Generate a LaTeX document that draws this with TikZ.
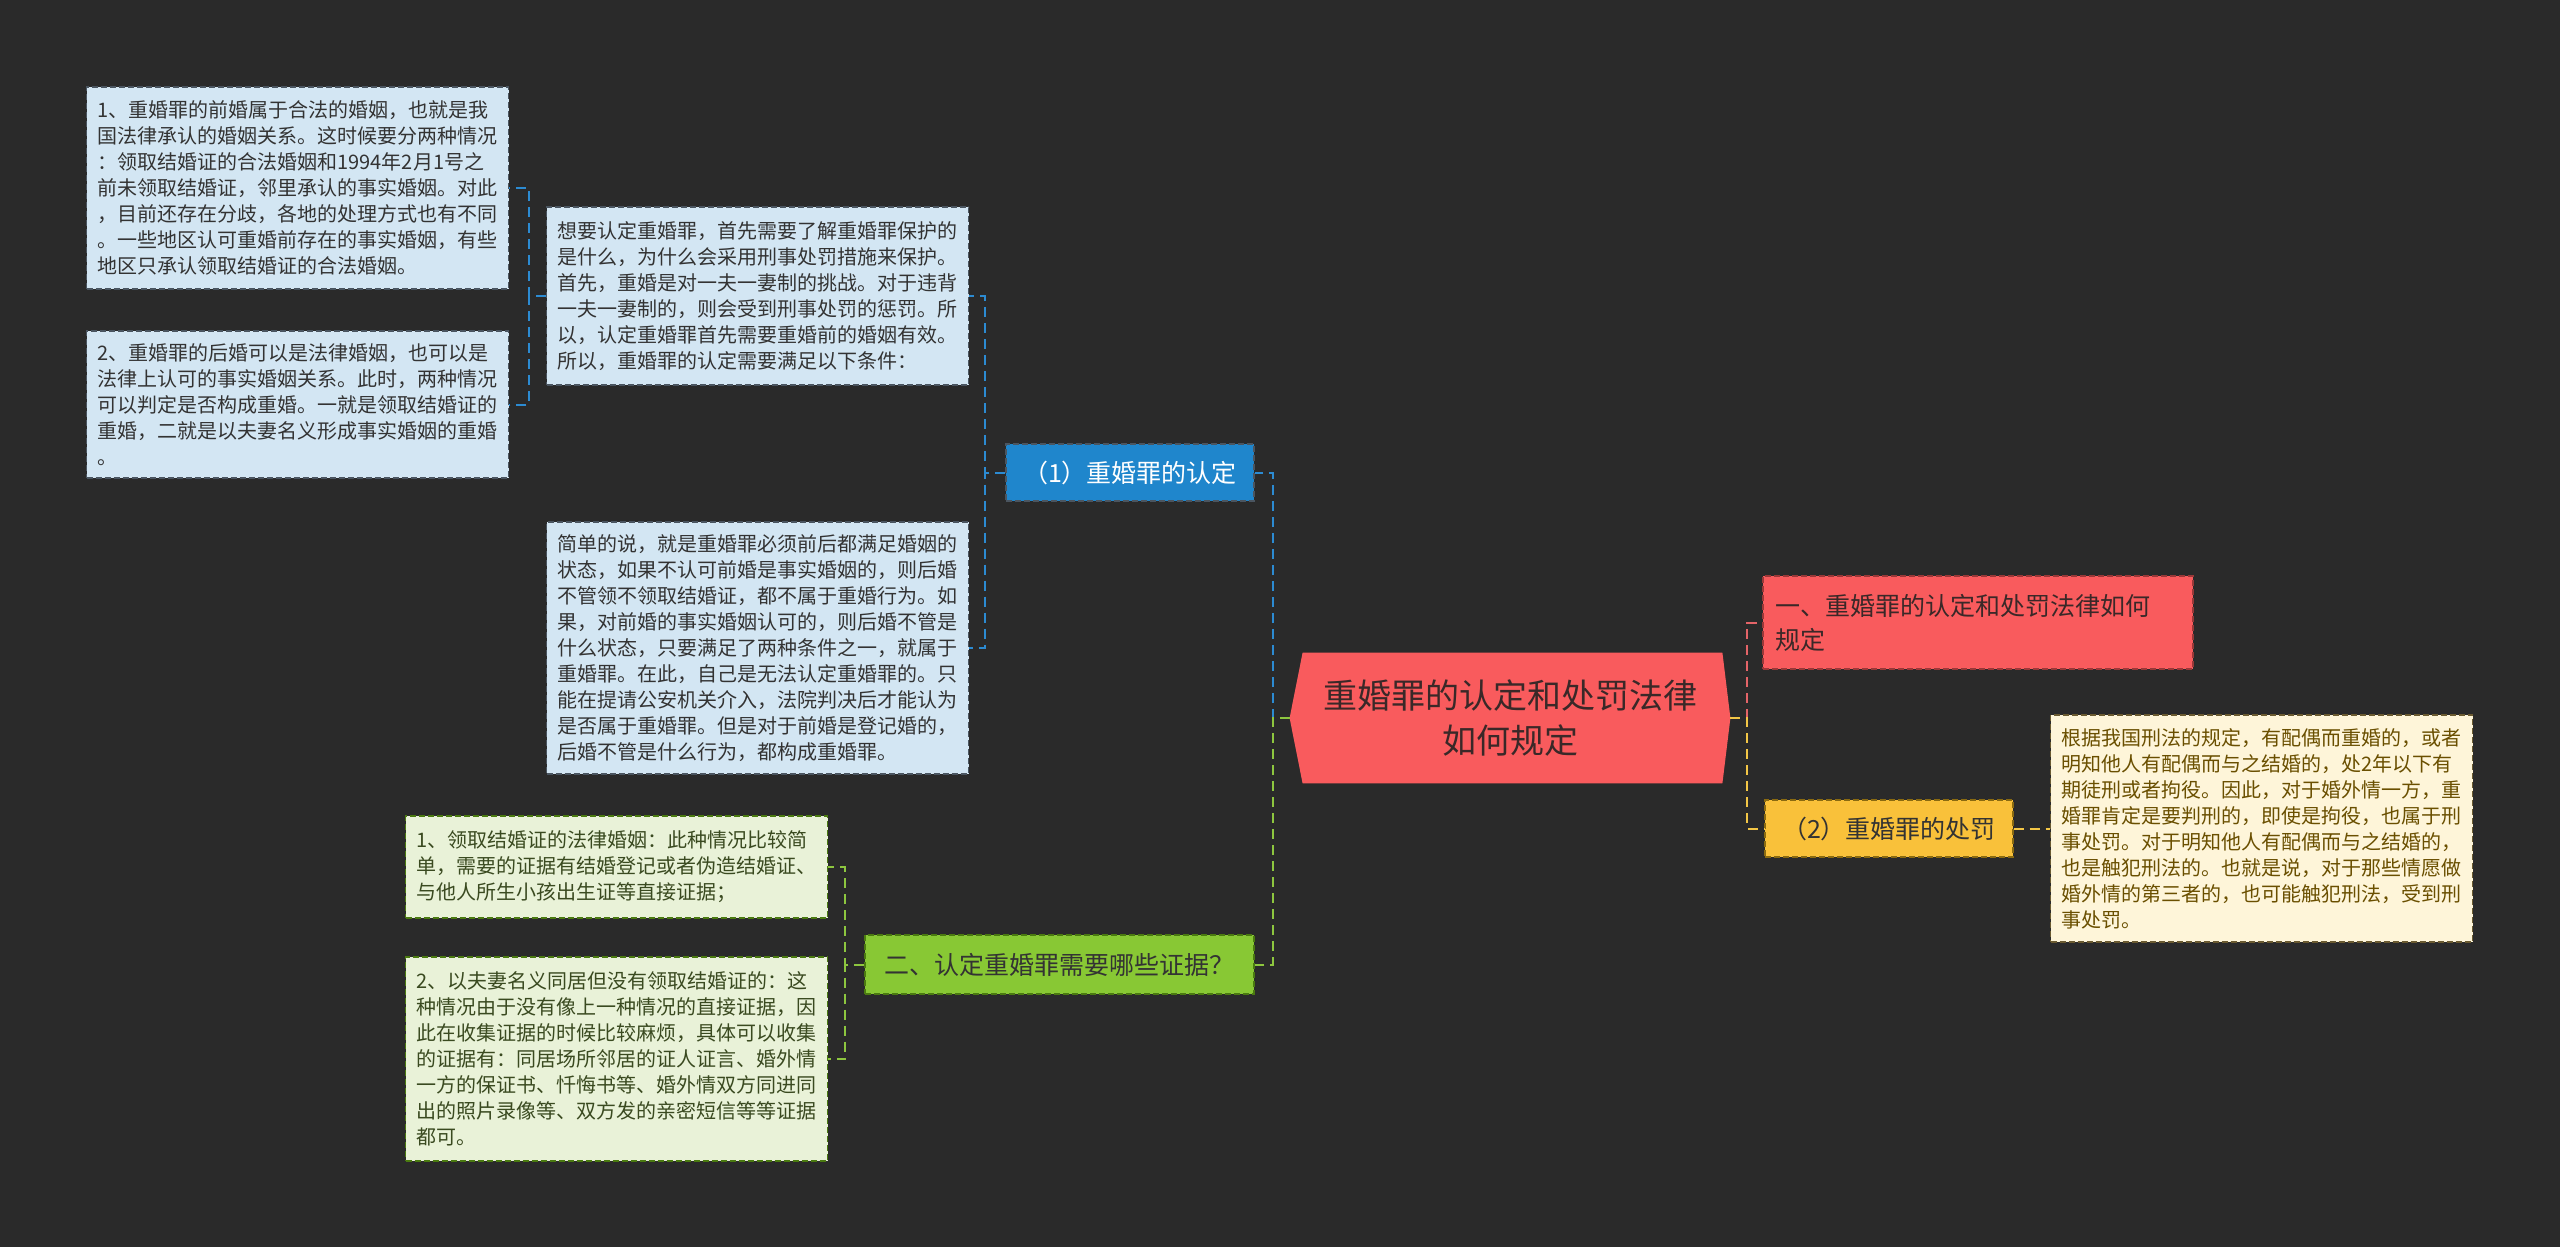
\documentclass[tikz,border=0pt]{standalone}
\usepackage{fontspec}
\newfontfamily\cjk{Noto Sans CJK SC}
\usetikzlibrary{calc, backgrounds}
\definecolor{cBack}{HTML}{2A2A2A}
\definecolor{cBlue}{HTML}{1F86CC}
\definecolor{cBlueLine}{HTML}{2C8BD2}
\definecolor{cBlueLt}{HTML}{D3E6F3}
\definecolor{cBlueEdge}{HTML}{4A5560}
\definecolor{cRed}{HTML}{F95B5D}
\definecolor{cRedLine}{HTML}{E46468}
\definecolor{cRedEdge}{HTML}{9A3838}
\definecolor{cYellow}{HTML}{F9C13A}
\definecolor{cYellowLine}{HTML}{F3C646}
\definecolor{cYellowEdge}{HTML}{8A6A10}
\definecolor{cCream}{HTML}{FEF5D9}
\definecolor{cCreamEdge}{HTML}{6A5A30}
\definecolor{cCreamInk}{HTML}{6A4F00}
\definecolor{cGreen}{HTML}{88C834}
\definecolor{cGreenLine}{HTML}{8DC63F}
\definecolor{cGreenEdge}{HTML}{4A7A10}
\definecolor{cGreenLt}{HTML}{E9F2D8}
\definecolor{cGreenInk}{HTML}{3A4A20}
\definecolor{cInk}{HTML}{333333}
\definecolor{cRootInk}{HTML}{3A2828}
\tikzset{
  leaf/.style={
    rectangle, draw=#1, dash pattern=on 3pt off 1.5pt, line width=0.6pt,
    text width=200pt, inner xsep=5.5pt, inner ysep=4pt, align=left,
    font=\cjk\fontsize{10pt}{13pt}\selectfont
  },
  bleaf/.style={leaf=cBlueEdge, fill=cBlueLt, text=cInk},
  gleaf/.style={leaf=cGreenEdge, fill=cGreenLt, text=cGreenInk},
  yleaf/.style={leaf=cCreamEdge, fill=cCream, text=cCreamInk},
  topic/.style={
    rectangle, draw=#1, dash pattern=on 3pt off 1.5pt, line width=0.6pt,
    minimum height=28.5pt, inner xsep=6pt, align=center,
    font=\cjk\fontsize{12.5pt}{17pt}\selectfont
  },
  btopic/.style={topic=cBlueEdge, fill=cBlue, text=white},
  rtopic/.style={topic=cRedEdge, fill=cRed, text=cRootInk},
  ytopic/.style={topic=cYellowEdge, fill=cYellow, text=cInk},
  gtopic/.style={topic=cGreenEdge, fill=cGreen, text=cInk},
  hub/.style={
    rectangle, minimum width=220pt, minimum height=65pt, align=center,
    text=cRootInk, font=\cjk\fontsize{17pt}{22.5pt}\selectfont
  },
  link/.style={#1, line width=1pt, dash pattern=on 5pt off 3pt},
}

\begin{document}
\begin{tikzpicture}[x=0.5pt, y=-0.5pt]

  % Canvas
  \begin{pgfonlayer}{background}
    \fill[cBack] (0,0) rectangle (2560,1247);
  \end{pgfonlayer}
  \useasboundingbox (0,0) rectangle (2560,1247);

  % Root
  \node[hub] (root) at (1510,718) {重婚罪的认定和处罚法律\\如何规定};
  \begin{pgfonlayer}{background}
    \fill[cRed] ($(root.north west)+(13,0)$) -- ($(root.north east)+(-8,0)$)
      -- (root.east) -- ($(root.south east)+(-8,0)$)
      -- ($(root.south west)+(13,0)$) -- (root.west) -- cycle;
  \end{pgfonlayer}

  % Right branch
  \node[rtopic, minimum width=215pt, minimum height=46.5pt, text width=203pt,
        align=left] (R1) at (1978,622.5) {一、重婚罪的认定和处罚法律如何\\规定};
  \node[ytopic, minimum width=124pt] (Y2) at (1889,828.5) {（2）重婚罪的处罚};
  \node[yleaf, minimum height=113.5pt] (P1) at (2261.5,828.5) {
    根据我国刑法的规定，有配偶而重婚的，或者\\
    明知他人有配偶而与之结婚的，处2年以下有\\
    期徒刑或者拘役。因此，对于婚外情一方，重\\
    婚罪肯定是要判刑的，即使是拘役，也属于刑\\
    事处罚。对于明知他人有配偶而与之结婚的，\\
    也是触犯刑法的。也就是说，对于那些情愿做\\
    婚外情的第三者的，也可能触犯刑法，受到刑\\
    事处罚。};

  % Left branch: recognition
  \node[btopic, minimum width=124pt] (N1) at (1130,472.5) {（1）重婚罪的认定};
  \node[bleaf, minimum height=89pt] (B1) at (757.5,296) {
    想要认定重婚罪，首先需要了解重婚罪保护的\\
    是什么，为什么会采用刑事处罚措施来保护。\\
    首先，重婚是对一夫一妻制的挑战。对于违背\\
    一夫一妻制的，则会受到刑事处罚的惩罚。所\\
    以，认定重婚罪首先需要重婚前的婚姻有效。\\
    所以，重婚罪的认定需要满足以下条件：};
  \node[bleaf, minimum height=126pt] (B2) at (757.5,648) {
    简单的说，就是重婚罪必须前后都满足婚姻的\\
    状态，如果不认可前婚是事实婚姻的，则后婚\\
    不管领不领取结婚证，都不属于重婚行为。如\\
    果，对前婚的事实婚姻认可的，则后婚不管是\\
    什么状态，只要满足了两种条件之一，就属于\\
    重婚罪。在此，自己是无法认定重婚罪的。只\\
    能在提请公安机关介入，法院判决后才能认为\\
    是否属于重婚罪。但是对于前婚是登记婚的，\\
    后婚不管是什么行为，都构成重婚罪。};
  \node[bleaf, minimum height=101pt] (A1) at (297.5,188) {
    1、重婚罪的前婚属于合法的婚姻，也就是我\\
    国法律承认的婚姻关系。这时候要分两种情况\\
    ：领取结婚证的合法婚姻和1994年2月1号之\\
    前未领取结婚证，邻里承认的事实婚姻。对此\\
    ，目前还存在分歧，各地的处理方式也有不同\\
    。一些地区认可重婚前存在的事实婚姻，有些\\
    地区只承认领取结婚证的合法婚姻。};
  \node[bleaf, minimum height=73.5pt] (A2) at (297.5,404.5) {
    2、重婚罪的后婚可以是法律婚姻，也可以是\\
    法律上认可的事实婚姻关系。此时，两种情况\\
    可以判定是否构成重婚。一就是领取结婚证的\\
    重婚，二就是以夫妻名义形成事实婚姻的重婚\\
    。};

  % Left branch: evidence
  \node[gtopic, minimum width=194.5pt, minimum height=29.5pt] (G2) at (1059.5,964.5)
    {二、认定重婚罪需要哪些证据？};
  \node[gleaf, minimum height=51pt] (C1) at (616.5,867) {
    1、领取结婚证的法律婚姻：此种情况比较简\\
    单，需要的证据有结婚登记或者伪造结婚证、\\
    与他人所生小孩出生证等直接证据；};
  \node[gleaf, minimum height=102pt] (C2) at (616.5,1059) {
    2、以夫妻名义同居但没有领取结婚证的：这\\
    种情况由于没有像上一种情况的直接证据，因\\
    此在收集证据的时候比较麻烦，具体可以收集\\
    的证据有：同居场所邻居的证人证言、婚外情\\
    一方的保证书、忏悔书等、婚外情双方同进同\\
    出的照片录像等、双方发的亲密短信等等证据\\
    都可。};

  % Connectors
  \draw[link=cBlueLine] (root.west) -- ++(-17,0) |- (N1.east);
  \draw[link=cBlueLine] (N1.west) -- ++(-20,0) |- (B1.east);
  \draw[link=cBlueLine] (N1.west) -- ++(-20,0) |- (B2.east);
  \draw[link=cBlueLine] (B1.west) -- ++(-17,0) |- (A1.east);
  \draw[link=cBlueLine] (B1.west) -- ++(-17,0) |- (A2.east);
  \draw[link=cGreenLine] (root.west) -- ++(-17,0) |- (G2.east);
  \draw[link=cGreenLine] (G2.west) -- ++(-19,0) |- (C1.east);
  \draw[link=cGreenLine] (G2.west) -- ++(-19,0) |- (C2.east);
  \draw[link=cRedLine] (root.east) -- ++(17,0) |- (R1.west);
  \draw[link=cYellowLine] (root.east) -- ++(17,0) |- (Y2.west);
  \draw[link=cYellowLine] (Y2.east) -- (P1.west);

\end{tikzpicture}
\end{document}
